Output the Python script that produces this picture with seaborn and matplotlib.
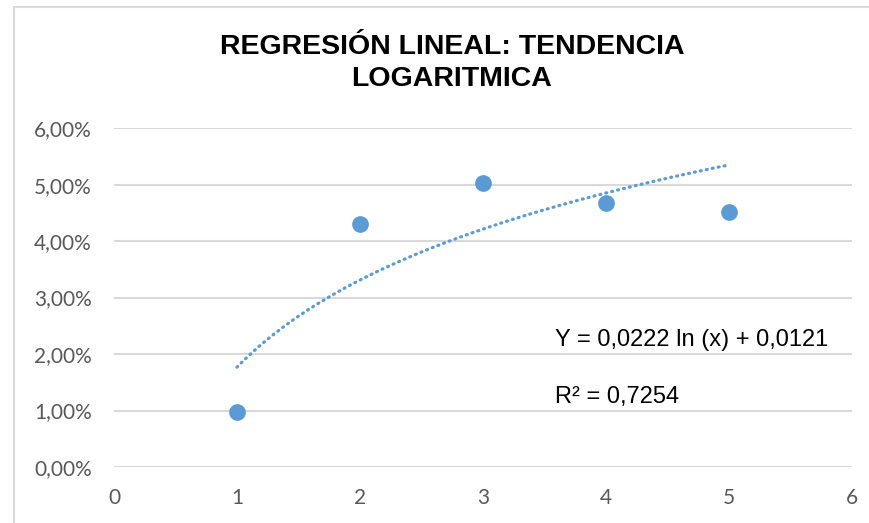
import numpy as np
import pandas as pd
import matplotlib
matplotlib.use("Agg")
import matplotlib.pyplot as plt
import seaborn as sns
from matplotlib.ticker import FuncFormatter

# datos
x_vals = [1, 2, 3, 4, 5]
y_vals = [0.0097, 0.0430, 0.0503, 0.0467, 0.0452]

titulo = "REGRESIÓN LINEAL: TENDENCIA\nLOGARITMICA"
ecuacion = "Y = 0,0222 ln (x) + 0,0121"
r2_txt = "R² = 0,7254"

df = pd.DataFrame({"x": x_vals, "y": y_vals})

# ajuste logaritmico (linea de tendencia)
coef = np.polyfit(np.log(df["x"]), df["y"], 1)
xx = np.linspace(min(x_vals), max(x_vals), 200)
yy = coef[0] * np.log(xx) + coef[1]

sns.set_style("white")
azul = "#5b9bd5"
gris = "#595959"

fig = plt.figure(figsize=(8.7, 5.23), dpi=100)
ax = fig.add_axes([0.131, 0.107, 0.848, 0.648])

# borde del area del grafico
fig.patches.append(plt.Rectangle((14 / 870, -0.02), 1.0, 1 - 7 / 523 + 0.02,
                                 transform=fig.transFigure, fill=False,
                                 edgecolor="#d9d9d9", linewidth=1.5))

ax.plot(xx, yy, linestyle=(0, (0.3, 1.6)), dash_capstyle="round",
        color=azul, linewidth=2.3, zorder=2)
sns.scatterplot(data=df, x="x", y="y", s=145, color=azul, edgecolor=azul,
                linewidth=0, ax=ax, zorder=3)

ax.set_xlim(0, 6)
ax.set_ylim(0, 0.06)
ax.set_yticks(np.arange(0, 0.061, 0.01))
ax.set_xticks(range(0, 7))
ax.yaxis.set_major_formatter(FuncFormatter(lambda v, p: f"{v*100:.2f}%".replace(".", ",")))
ax.grid(axis="y", color="#d9d9d9", linewidth=1.5)
ax.set_axisbelow(True)
for s in ax.spines.values():
    s.set_visible(False)
ax.tick_params(length=0, labelsize=15, labelcolor=gris)
ax.tick_params(axis="y", pad=16)
ax.tick_params(axis="x", pad=15)
for lab in ax.get_xticklabels() + ax.get_yticklabels():
    lab.set_family(["Lato", "DejaVu Sans"])
ax.set_xlabel("")
ax.set_ylabel("")

fig.text(452 / 870, 1 - 63 / 523, titulo, ha="center", va="center",
         fontsize=20.5, fontweight="bold", linespacing=1.3, color="black",
         family=["Liberation Sans", "DejaVu Sans"])

ax.text(555 / 870, 1 - 340 / 523, ecuacion, transform=fig.transFigure,
        ha="left", va="center", fontsize=17, color="black",
        family=["Liberation Sans", "DejaVu Sans"])
ax.text(555 / 870, 1 - 397 / 523, r2_txt, transform=fig.transFigure,
        ha="left", va="center", fontsize=17, color="black",
        family=["Liberation Sans", "DejaVu Sans"])

fig.savefig("out.png", dpi=100, facecolor="white")
